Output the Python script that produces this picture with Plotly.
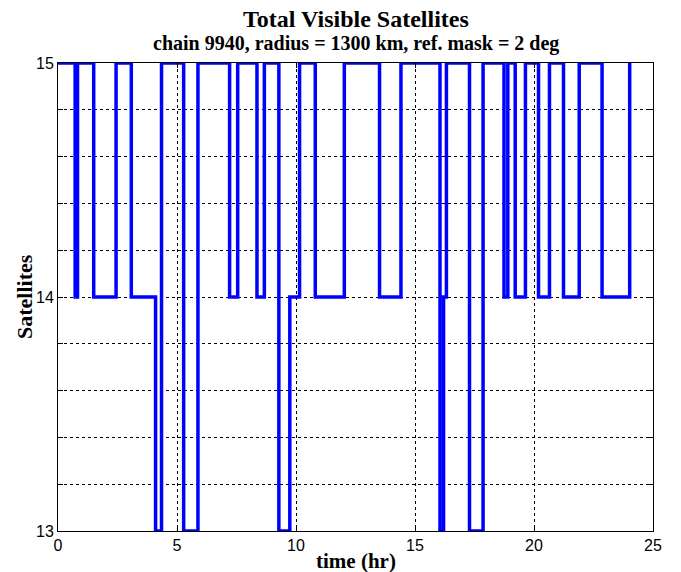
import plotly.graph_objects as go

# transition times (hr) and satellite counts (step function, value holds until next time)
times = [0, 0.72, 0.82, 1.50, 2.44, 3.08, 4.10, 4.35, 5.28, 5.88, 7.21, 7.55, 8.36, 8.67,
         9.28, 9.74, 10.15, 10.81, 12.03, 13.51, 14.41, 16.05, 16.20, 16.32, 17.29, 17.86,
         18.74, 18.90, 19.21, 19.64, 20.19, 20.65, 21.24, 21.90, 22.86, 24.02]
sats = [15, 14, 15, 14, 15, 14, 13, 15, 13, 15, 14, 15, 14, 15,
        13, 14, 15, 14, 15, 14, 15, 13, 14, 15, 13, 15,
        14, 15, 14, 15, 14, 15, 14, 15, 14, 15]

x_ticks = [0, 5, 10, 15, 20, 25]
y_ticks = [13, 13.2, 13.4, 13.6, 13.8, 14, 14.2, 14.4, 14.6, 14.8, 15]
y_labels = ["13", "", "", "", "", "14", "", "", "", "", "15"]

fig = go.Figure()
fig.add_trace(go.Scatter(x=times, y=sats, mode="lines", line_shape="hv",
                         line=dict(color="#0000FF", width=3.5), showlegend=False))

axis_common = dict(showline=True, linecolor="black", linewidth=1, mirror="ticks",
                   ticks="inside", ticklen=5, tickcolor="black",
                   showgrid=True, gridcolor="black", gridwidth=1, griddash="dot",
                   zeroline=False,
                   tickfont=dict(family="Liberation Sans, Arial", size=16, color="black"))

fig.update_xaxes(range=[0, 25], tickvals=x_ticks, **axis_common)
fig.update_yaxes(range=[13, 15], tickvals=y_ticks, ticktext=y_labels, **axis_common)

serif = "Liberation Serif, Times New Roman, serif"
fig.update_layout(
    width=681, height=572,
    margin=dict(l=58, r=28, t=63, b=41),
    plot_bgcolor="white", paper_bgcolor="white",
    annotations=[
        dict(text="<b>Total Visible Satellites</b>", x=0.5, xref="paper", y=1.0, yref="paper",
             yanchor="middle", yshift=44, showarrow=False,
             font=dict(family=serif, size=24, color="black")),
        dict(text="<b>chain 9940, radius = 1300 km, ref. mask = 2 deg</b>", x=0.5, xref="paper",
             y=1.0, yref="paper", yanchor="middle", yshift=20, showarrow=False,
             font=dict(family=serif, size=20, color="black")),
        dict(text="<b>time (hr)</b>", x=0.5, xref="paper", y=0, yref="paper",
             yanchor="middle", yshift=-30, showarrow=False,
             font=dict(family=serif, size=21, color="black")),
        dict(text="<b>Satellites</b>", x=0, xref="paper", y=0.5, yref="paper",
             xanchor="center", xshift=-34, textangle=-90, showarrow=False,
             font=dict(family=serif, size=22, color="black")),
    ],
)

fig.write_html("out.html")
